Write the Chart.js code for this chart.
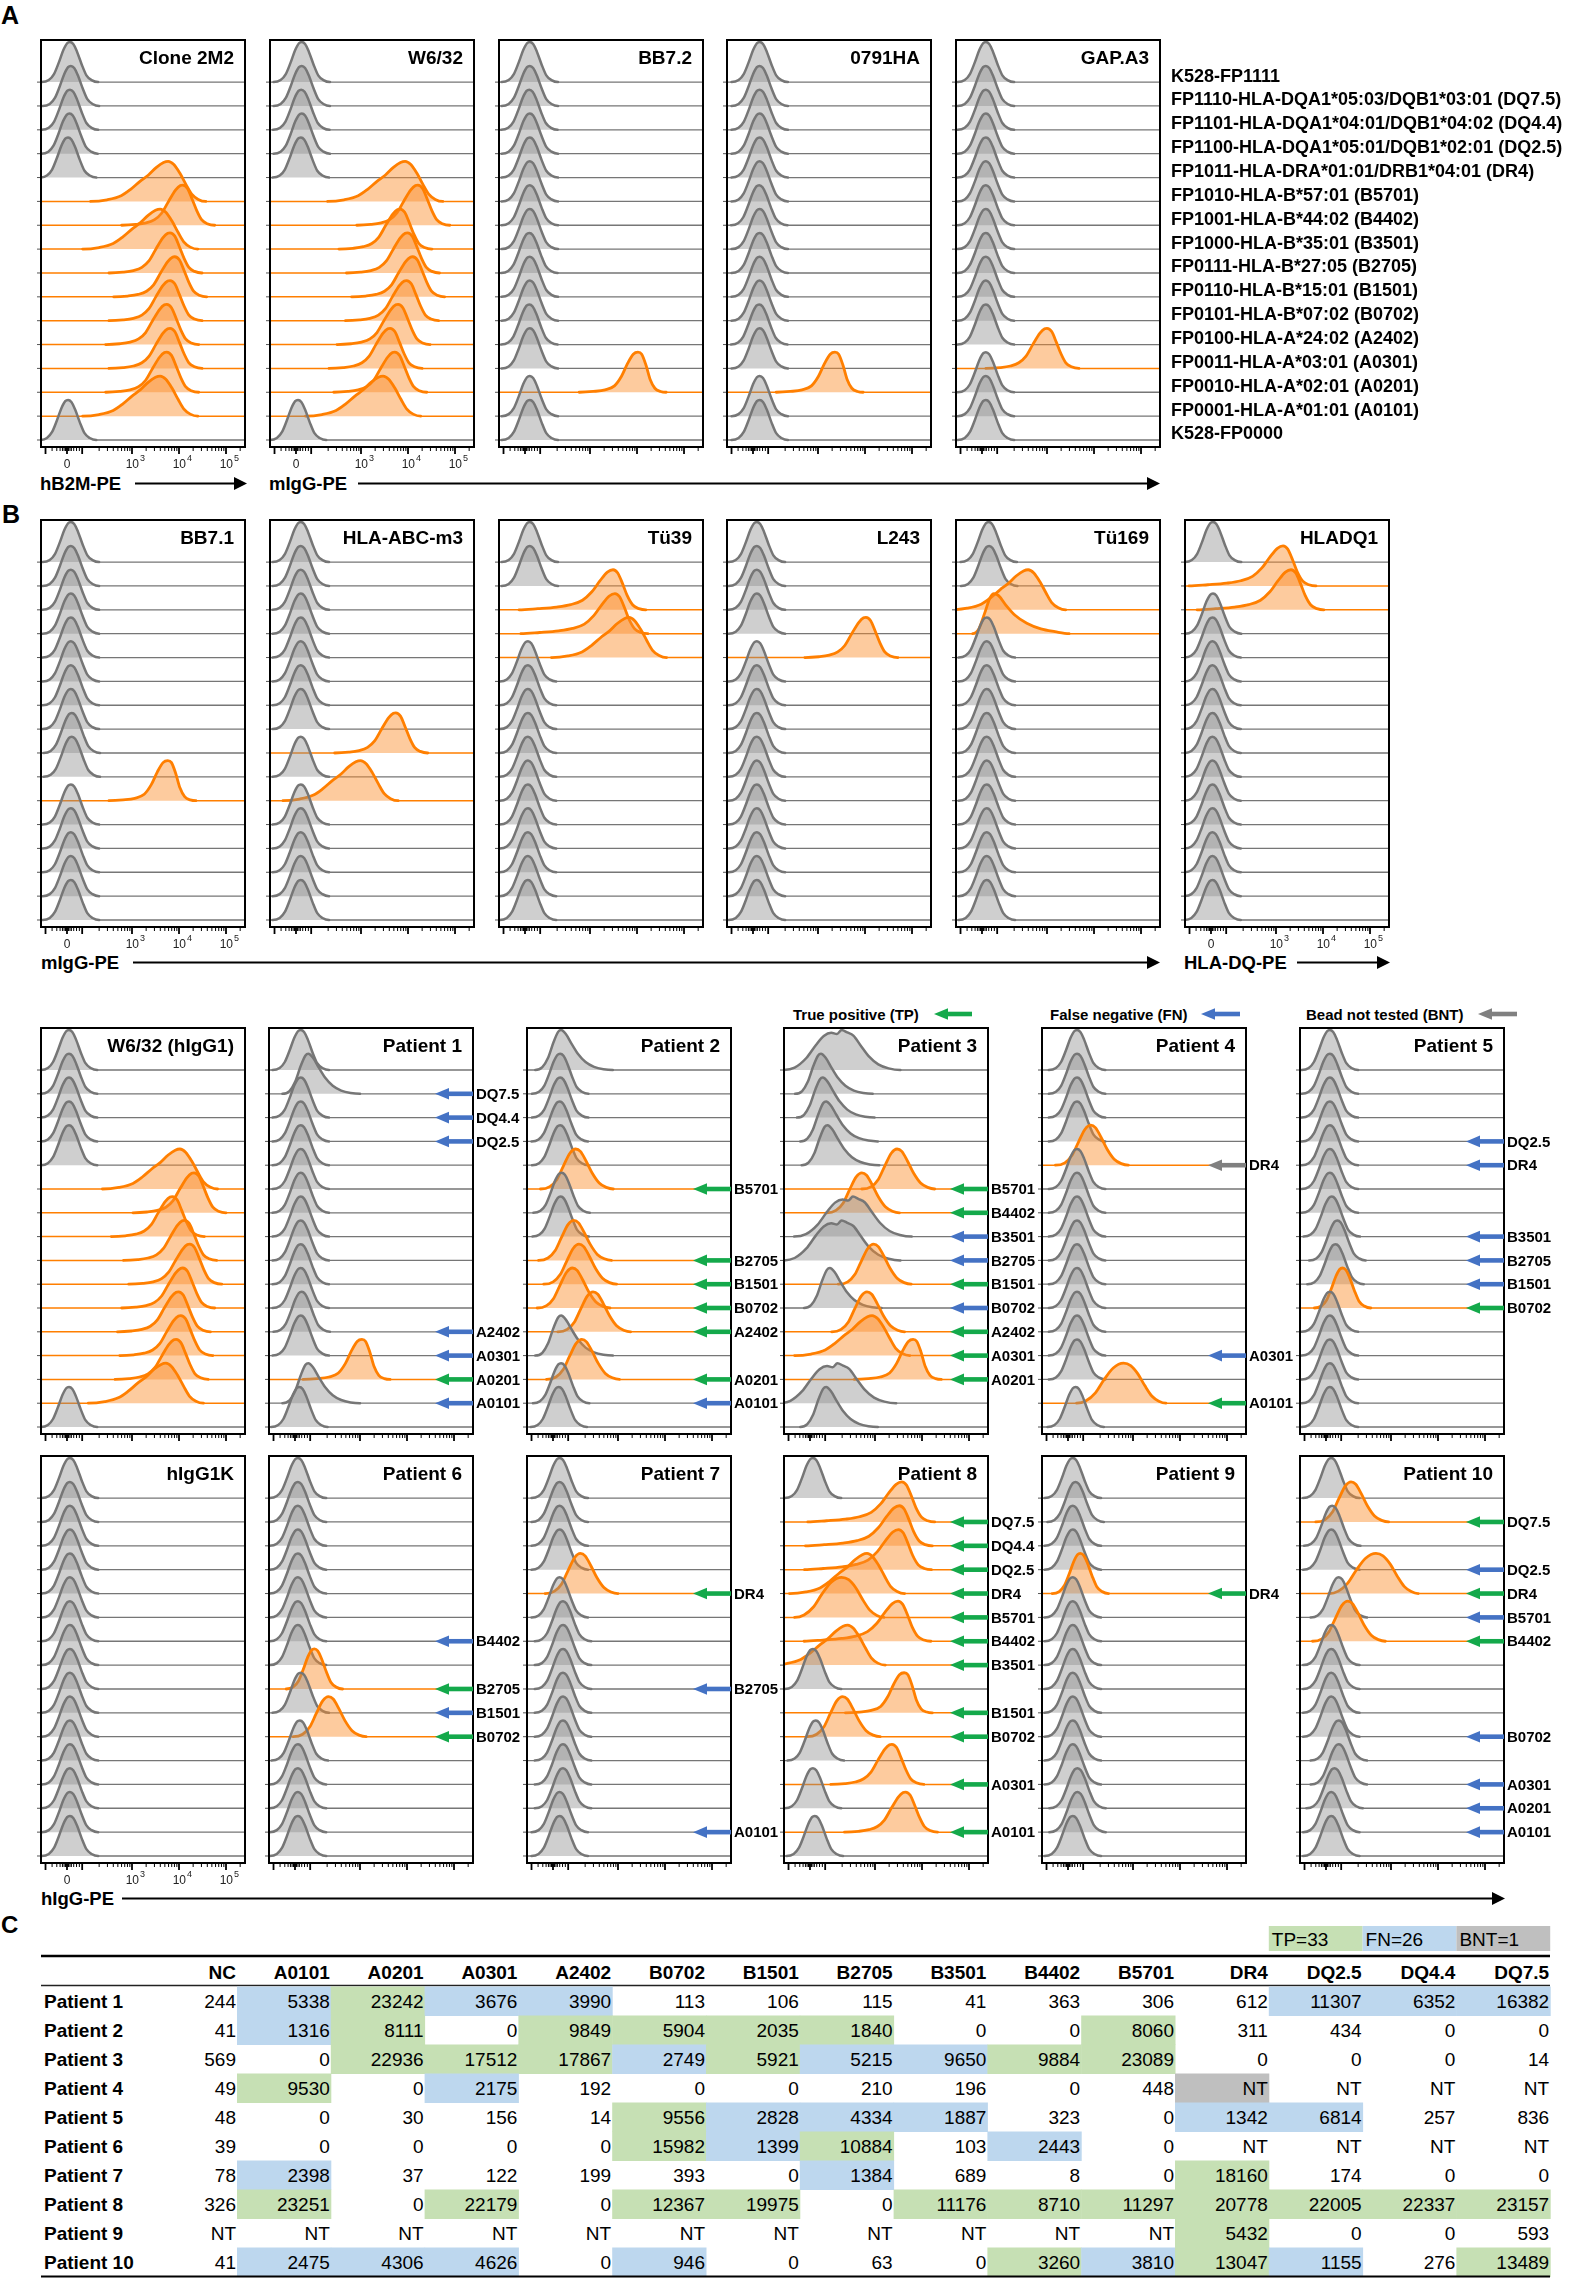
<!DOCTYPE html>
<html><head><meta charset="utf-8"><title>HLA bead histograms</title>
<script src="https://cdn.jsdelivr.net/npm/chart.js@4.4.1/dist/chart.umd.min.js"></script>
<style>
html,body{margin:0;padding:0;background:#fff;}
#page{position:relative;width:1575px;height:2278px;overflow:hidden;background:#fff;}
#page canvas{position:absolute;}
#overlay{position:absolute;left:0;top:0;}
</style></head>
<body><div id="page"><svg id="overlay" xmlns="http://www.w3.org/2000/svg" width="1575" height="2278"></svg></div>
<script>
// ================= DATA =================
// rows of every histogram stack, bottom (0) to top (15)
const BEADS = ['K528-FP0000','A0101','A0201','A0301','A2402','B0702','B1501','B2705','B3501','B4402','B5701','DR4','DQ2.5','DQ4.4','DQ7.5','K528-FP1111'];
const BEAD_LABELS = ['K528-FP0000','FP0001-HLA-A*01:01 (A0101)','FP0010-HLA-A*02:01 (A0201)','FP0011-HLA-A*03:01 (A0301)',
  'FP0100-HLA-A*24:02 (A2402)','FP0101-HLA-B*07:02 (B0702)','FP0110-HLA-B*15:01 (B1501)','FP0111-HLA-B*27:05 (B2705)',
  'FP1000-HLA-B*35:01 (B3501)','FP1001-HLA-B*44:02 (B4402)','FP1010-HLA-B*57:01 (B5701)','FP1011-HLA-DRA*01:01/DRB1*04:01 (DR4)',
  'FP1100-HLA-DQA1*05:01/DQB1*02:01 (DQ2.5)','FP1101-HLA-DQA1*04:01/DQB1*04:02 (DQ4.4)','FP1110-HLA-DQA1*05:03/DQB1*03:01 (DQ7.5)','K528-FP1111'];

// x axis ticks (display position on the biexponential axis: 10^3 -> 3, 10^4 -> 4 ...)
const X_TICK_VALUES = [1.617, 3, 4, 5];
const X_TICK_LABELS = ['0', '3', '4', '5'];

// peak position of each histogram (display units), bottom row first
// kinds: lowercase = grey (negative), uppercase = orange (positive); letter = peak profile
const PANEL_A = ['Clone 2M2','W6/32','BB7.2','0791HA','GAP.A3'];
const PEAKS_A = [
  [1.64,3.6,3.74,3.81,3.74,3.81,3.91,3.81,3.6,4.08,3.77,1.64,1.67,1.68,1.70,1.68],
  [1.66,3.47,3.72,3.62,3.79,3.97,4.1,3.99,3.83,4.21,3.94,1.72,1.74,1.73,1.74,1.74],
  [1.72,1.72,4.02,1.72,1.71,1.72,1.72,1.71,1.72,1.72,1.72,1.72,1.72,1.71,1.72,1.72],
  [1.76,1.76,3.36,1.76,1.75,1.76,1.76,1.76,1.76,1.75,1.76,1.76,1.76,1.76,1.76,1.76],
  [1.70,1.70,1.70,3.0,1.70,1.70,1.70,1.70,1.70,1.70,1.70,1.70,1.70,1.70,1.70,1.70]
];
const KINDS_A = ['nBPPPPPPBPBnnnnn','nBPPPPPPPPBnnnnn','nnQnnnnnnnnnnnnn','nnQnnnnnnnnnnnnn','nnnPnnnnnnnnnnnn'];

const PANEL_B = ['BB7.1','HLA-ABC-m3','Tü39','L243','Tü169','HLADQ1'];
const PEAKS_B = [
  [1.7,1.7,1.7,1.7,1.7,3.76,1.72,1.72,1.7,1.7,1.7,1.7,1.7,1.7,1.7,1.7],
  [1.72,1.72,1.72,1.72,1.72,2.99,1.72,3.74,1.72,1.72,1.72,1.72,1.72,1.72,1.72,1.72],
  [1.68,1.68,1.68,1.68,1.68,1.68,1.68,1.68,1.68,1.68,1.68,3.83,3.53,3.49,1.72,1.72],
  [1.7,1.7,1.7,1.7,1.7,1.7,1.7,1.7,1.7,1.7,1.7,4.02,1.7,1.7,1.7,1.7],
  [1.72,1.72,1.72,1.72,1.72,1.72,1.72,1.72,1.72,1.72,1.72,1.72,1.87,2.6,1.77,1.76],
  [1.65,1.65,1.65,1.65,1.65,1.65,1.65,1.65,1.65,1.65,1.65,1.65,1.66,3.32,3.15,1.66]
];
const KINDS_B = ['nnnnnQnnnnnnnnnn','nnnnnBnPnnnnnnnn','nnnnnnnnnnnBTTnn','nnnnnnnnnnnPnnnn','nnnnnnnnnnnnRBnn','nnnnnnnnnnnnnTTn'];

const PANEL_C1 = ['W6/32 (hIgG1)','Patient 1','Patient 2','Patient 3','Patient 4','Patient 5'];
const PEAKS_C1 = [
  [1.66,3.72,3.94,4.04,3.99,4.08,4.23,4.12,3.86,4.32,4.02,1.66,1.66,1.66,1.66,1.66],
  [1.71,1.9,3.04,1.74,1.76,1.74,1.74,1.74,1.74,1.74,1.74,1.74,1.74,1.74,1.9,1.74],
  [1.74,1.79,2.23,1.79,2.47,2.03,2.17,2.06,1.78,1.8,2.1,1.77,1.76,1.77,1.77,1.79],
  [1.96,2.2,3.81,2.94,2.83,2.04,2.97,2.29,2.53,2.72,3.47,1.99,1.96,1.89,1.85,2.29],
  [1.78,2.8,1.81,1.81,1.81,1.81,1.81,1.81,1.81,1.81,1.81,2.1,1.81,1.81,1.81,1.81],
  [1.7,1.7,1.7,1.7,1.7,1.97,1.82,1.86,1.74,1.7,1.7,1.7,1.7,1.7,1.7,1.7]
];
const KINDS_C1 = ['nBPPPPPPPPBnnnnn','nsQnnnnnnnnnnnsn','nnMsMMMMnnMnnnns','swQBMsMwwMMssssw','nCnnnnnnnnnMnnnn','nnnnnNnnnnnnnnnn'];

const PANEL_C2 = ['hIgG1K','Patient 6','Patient 7','Patient 8','Patient 9','Patient 10'];
const PEAKS_C2 = [
  [1.68,1.68,1.68,1.68,1.68,1.68,1.68,1.68,1.68,1.68,1.68,1.68,1.68,1.68,1.68,1.68],
  [1.68,1.68,1.68,1.68,1.72,2.33,1.74,2.03,1.68,1.68,1.68,1.68,1.68,1.68,1.68,1.68],
  [1.76,1.76,1.83,1.83,1.83,1.83,1.83,1.83,1.83,1.83,1.76,2.2,1.76,1.76,1.76,1.76],
  [1.72,3.65,1.68,3.36,1.74,2.31,3.62,1.68,2.42,3.49,2.29,2.83,3.5,3.52,3.57,1.68],
  [1.72,1.82,1.82,1.72,1.72,1.72,1.72,1.72,1.72,1.72,1.72,1.88,1.72,1.72,1.78,1.72],
  [1.73,1.73,1.8,1.89,1.89,1.73,1.73,1.73,1.73,2.08,1.89,2.68,1.73,1.75,2.15,1.73]
];
const KINDS_C2 = ['nnnnnnnnnnnnnnnn','nnnnnMnNnnnnnnnn','nnnnnnnnnnnMnnnn','nPnPnMQnBTCBTTTn','nnnnnnnnnnnNnnnn','nnnnnnnnnMnCnnMn'];

// peak profiles: [offset along x (display units), relative height]
const PROFILE_N = [[-0.6,0],[-0.45,0.05],[-0.34,0.2],[-0.24,0.48],[-0.14,0.8],[-0.06,0.97],[0,1],[0.07,0.95],[0.15,0.76],[0.25,0.44],[0.35,0.17],[0.46,0.05],[0.6,0]];
const PROFILE_S = [[-0.55,0],[-0.4,0.07],[-0.28,0.3],[-0.16,0.7],[-0.06,0.96],[0,1],[0.1,0.9],[0.22,0.66],[0.36,0.4],[0.52,0.2],[0.7,0.08],[0.9,0.02],[1.1,0]];
const PROFILE_W = [[-1.25,0],[-1.0,0.06],[-0.75,0.3],[-0.55,0.62],[-0.38,0.85],[-0.22,0.93],[-0.1,0.9],[0,1],[0.12,0.94],[0.25,0.86],[0.4,0.62],[0.58,0.34],[0.78,0.14],[1.0,0.04],[1.25,0]];
const PROFILE_P = [[-1.3,0],[-1.0,0.02],[-0.78,0.06],[-0.6,0.14],[-0.45,0.3],[-0.3,0.6],[-0.15,0.88],[-0.05,0.99],[0,1],[0.1,0.92],[0.2,0.65],[0.3,0.36],[0.4,0.14],[0.52,0.04],[0.68,0]];
const PROFILE_Q = [[-1.25,0],[-0.95,0.02],[-0.7,0.06],[-0.5,0.16],[-0.35,0.4],[-0.22,0.72],[-0.1,0.95],[0,1],[0.08,0.95],[0.17,0.68],[0.26,0.32],[0.36,0.1],[0.48,0.02],[0.6,0]];
const PROFILE_B = [[-1.65,0],[-1.3,0.04],[-1.0,0.14],[-0.8,0.3],[-0.6,0.5],[-0.42,0.66],[-0.25,0.85],[-0.1,0.97],[0,1],[0.12,0.92],[0.25,0.7],[0.38,0.42],[0.5,0.18],[0.64,0.05],[0.8,0]];
const PROFILE_T = [[-2.0,0],[-1.6,0.03],[-1.2,0.07],[-0.9,0.13],[-0.65,0.24],[-0.45,0.45],[-0.28,0.72],[-0.12,0.94],[0,1],[0.1,0.92],[0.2,0.66],[0.3,0.36],[0.42,0.12],[0.55,0.03],[0.7,0]];
const PROFILE_R = [[-0.45,0],[-0.32,0.12],[-0.2,0.5],[-0.08,0.9],[0,1],[0.1,0.95],[0.25,0.72],[0.45,0.46],[0.7,0.26],[1.0,0.12],[1.3,0.05],[1.6,0]];
const PROFILE_M = [[-0.75,0],[-0.55,0.06],[-0.4,0.24],[-0.26,0.58],[-0.12,0.9],[0,1],[0.1,0.94],[0.22,0.7],[0.35,0.4],[0.5,0.15],[0.65,0.04],[0.8,0]];
const PROFILE_C = [[-1.0,0],[-0.8,0.06],[-0.6,0.26],[-0.42,0.58],[-0.22,0.88],[0,1],[0.15,0.94],[0.3,0.74],[0.45,0.44],[0.6,0.18],[0.75,0.05],[0.9,0]];
const PROFILES = {n:PROFILE_N, s:PROFILE_S, w:PROFILE_W, p:PROFILE_P, q:PROFILE_Q, b:PROFILE_B, t:PROFILE_T, r:PROFILE_R, m:PROFILE_M, c:PROFILE_C};

// table (MFI)
const TABLE_COLS = ['NC','A0101','A0201','A0301','A2402','B0702','B1501','B2705','B3501','B4402','B5701','DR4','DQ2.5','DQ4.4','DQ7.5'];
const PATIENTS = ['Patient 1','Patient 2','Patient 3','Patient 4','Patient 5','Patient 6','Patient 7','Patient 8','Patient 9','Patient 10'];
const MFI = [
  ['244','5338','23242','3676','3990','113','106','115','41','363','306','612','11307','6352','16382'],
  ['41','1316','8111','0','9849','5904','2035','1840','0','0','8060','311','434','0','0'],
  ['569','0','22936','17512','17867','2749','5921','5215','9650','9884','23089','0','0','0','14'],
  ['49','9530','0','2175','192','0','0','210','196','0','448','NT','NT','NT','NT'],
  ['48','0','30','156','14','9556','2828','4334','1887','323','0','1342','6814','257','836'],
  ['39','0','0','0','0','15982','1399','10884','103','2443','0','NT','NT','NT','NT'],
  ['78','2398','37','122','199','393','0','1384','689','8','0','18160','174','0','0'],
  ['326','23251','0','22179','0','12367','19975','0','11176','8710','11297','20778','22005','22337','23157'],
  ['NT','NT','NT','NT','NT','NT','NT','NT','NT','NT','NT','5432','0','0','593'],
  ['41','2475','4306','4626','0','946','0','63','0','3260','3810','13047','1155','276','13489']
];
// G = true positive, B = false negative, X = bead not tested
const STATUS = ['.BGBB.......BBB','.BG.GGGG..G....','..GGGBGBBGG....','.G.B.......X...','.....GBBB..BB..',
                '.....GBG.B.....','.B.....B...G...','.G.G.GG.GGGGGGG','...........G...','.BBB.B...GBGB.G'];
const SUMMARY = ['TP=33','FN=26','BNT=1'];

// ================= STYLE / LAYOUT =================
const FONT = '"Liberation Sans", Arial, Helvetica, sans-serif';
const X_MIN = 1.064, X_MAX = 5.404, Y_MIN = -0.294, Y_MAX = 16.765, PEAK_H = 1.68;
const GRAY_LINE = 'rgb(118,118,118)', GRAY_FILL = 'rgba(140,140,140,0.42)';
const ORANGE_LINE = 'rgb(255,127,0)', ORANGE_FILL = 'rgba(250,140,40,0.45)';
const ARROW_COLORS = {G:'#14a94b', B:'#4472c4', X:'#808080'};
const CELL_COLORS = {G:'#c6e0b4', B:'#bdd7ee', X:'#bfbfbf'};
const BOX_W = 204;
const MINOR_TICKS = [1.3,1.4,1.47,1.52,1.555,1.585,1.6,1.635,1.65,1.68,1.71,1.76,1.82,1.88];
for (const d of [2,3,4,5]) for (let k=2;k<=9;k++) MINOR_TICKS.push(d+Math.log10(k));
const HALF_TICKS = [1.16, 1.94];

const page = document.getElementById('page');
Chart.defaults.font.family = FONT;

function rowDataset(r, center, kind){
  const prof = PROFILES[kind.toLowerCase()];
  const orange = kind !== kind.toLowerCase();
  const pts = [{x: X_MIN - 1, y: r}];
  for (const [d,h] of prof) pts.push({x: center + d, y: r + h*PEAK_H});
  pts.push({x: X_MAX + 1, y: r});
  const thick = orange ? 2.8 : 2.5, thin = orange ? 1.5 : 1.3;
  return {
    data: pts, fill: {value: r},
    borderColor: orange ? ORANGE_LINE : GRAY_LINE,
    backgroundColor: orange ? ORANGE_FILL : GRAY_FILL,
    borderWidth: thick, pointRadius: 0, cubicInterpolationMode: 'monotone',
    borderJoinStyle: 'round', borderCapStyle: 'round',
    segment: {borderWidth: c => (c.p0.parsed.y - r < 0.002 && c.p1.parsed.y - r < 0.002) ? thin : thick}
  };
}

function decor(cfg){
  return {
    id: 'decor',
    afterDatasetsDraw(chart){
      const {ctx, chartArea: a, scales: {x, y}} = chart;
      ctx.save();
      // small ticks at the left of each row
      ctx.strokeStyle = '#555'; ctx.lineWidth = 1;
      for (let r=0; r<BEADS.length; r++){
        const py = y.getPixelForValue(r);
        ctx.beginPath(); ctx.moveTo(a.left-4, py); ctx.lineTo(a.left, py); ctx.stroke();
      }
      // x-axis tick marks
      ctx.strokeStyle = '#000';
      ctx.lineWidth = 1;
      for (const v of MINOR_TICKS){
        if (v < X_MIN || v > X_MAX) continue;
        const px = x.getPixelForValue(v);
        ctx.beginPath(); ctx.moveTo(px, a.bottom); ctx.lineTo(px, a.bottom+4); ctx.stroke();
      }
      ctx.lineWidth = 1.8;
      for (const v of X_TICK_VALUES.concat(HALF_TICKS)){
        const px = x.getPixelForValue(v);
        ctx.beginPath(); ctx.moveTo(px, a.bottom); ctx.lineTo(px, a.bottom+7); ctx.stroke();
      }
      // frame
      ctx.lineWidth = 2; ctx.strokeStyle = '#000';
      ctx.strokeRect(a.left, a.top, a.right-a.left, a.bottom-a.top);
      // tick labels
      if (cfg.tickLabels){
        ctx.fillStyle = '#222';
        X_TICK_VALUES.forEach((v,i) => {
          const px = x.getPixelForValue(v);
          if (X_TICK_LABELS[i] === '0'){
            ctx.font = '12px ' + FONT; ctx.textAlign = 'center'; ctx.textBaseline = 'alphabetic';
            ctx.fillText('0', px, a.bottom + 21);
          } else {
            ctx.font = '12px ' + FONT; ctx.textAlign = 'right'; ctx.textBaseline = 'alphabetic';
            ctx.fillText('10', px + 7, a.bottom + 21);
            ctx.font = '9px ' + FONT; ctx.textAlign = 'left';
            ctx.fillText(X_TICK_LABELS[i], px + 8, a.bottom + 14);
          }
        });
      }
      // title
      ctx.fillStyle = '#000';
      ctx.font = 'bold 19px ' + FONT; ctx.textAlign = 'right'; ctx.textBaseline = 'alphabetic';
      ctx.fillText(cfg.title, a.right - 11, a.top + 24);
      // arrows for patients
      if (cfg.status){
        for (let r=1; r<=14; r++){
          const s = cfg.status[r];
          if (!ARROW_COLORS[s]) continue;
          const py = y.getPixelForValue(r);
          const xr = a.right, tip = a.right - 38;
          ctx.fillStyle = ARROW_COLORS[s];
          ctx.fillRect(tip + 12, py - 2.3, xr - tip - 12, 4.6);
          ctx.beginPath(); ctx.moveTo(tip, py); ctx.lineTo(tip + 14, py - 5.8); ctx.lineTo(tip + 14, py + 5.8); ctx.closePath(); ctx.fill();
          ctx.fillStyle = '#000';
          ctx.font = 'bold 15px ' + FONT; ctx.textAlign = 'left'; ctx.textBaseline = 'middle';
          ctx.fillText(TABLE_COLS[r], xr + 3, py + 1);
        }
      }
      // bead labels (panel A right side)
      if (cfg.rowLabels){
        ctx.fillStyle = '#000';
        ctx.font = 'bold 18px ' + FONT; ctx.textAlign = 'left'; ctx.textBaseline = 'middle';
        for (let r=0; r<BEAD_LABELS.length; r++){
          ctx.fillText(BEAD_LABELS[r], a.right + 11, y.getPixelForValue(r) - 5.5);
        }
      }
      ctx.restore();
    }
  };
}

function makeStack(cfg){
  const padL = 6, padT = 4, padB = cfg.tickLabels ? 30 : 12, padR = cfg.rightPad;
  const W = padL + BOX_W + padR, H = padT + cfg.h + padB;
  const cv = document.createElement('canvas');
  cv.width = W; cv.height = H;
  cv.style.width = W + 'px'; cv.style.height = H + 'px';
  cv.style.left = (cfg.left - padL) + 'px'; cv.style.top = (cfg.top - padT) + 'px';
  page.appendChild(cv);
  const datasets = [];
  for (let r=0; r<BEADS.length; r++) datasets.push(rowDataset(r, cfg.peaks[r], cfg.kinds[r]));
  new Chart(cv, {
    type: 'line',
    data: {datasets},
    options: {
      responsive: false, animation: false, events: [], devicePixelRatio: 1,
      layout: {padding: {left: padL, top: padT, right: padR, bottom: padB}},
      scales: {
        x: {type: 'linear', display: false, min: X_MIN, max: X_MAX},
        y: {type: 'linear', display: false, min: Y_MIN, max: Y_MAX}
      },
      plugins: {legend: {display: false}, tooltip: {enabled: false}, title: {display: false}}
    },
    plugins: [decor(cfg)]
  });
}

// Panel A
const A_LEFTS = [41, 270, 499, 727, 956];
PANEL_A.forEach((t,i) => makeStack({title: t, peaks: PEAKS_A[i], kinds: KINDS_A[i], left: A_LEFTS[i], top: 40, h: 407,
  tickLabels: i < 2, rightPad: i === 4 ? 415 : 6, rowLabels: i === 4}));
// Panel B
const B_LEFTS = [41, 270, 499, 727, 956, 1185];
PANEL_B.forEach((t,i) => makeStack({title: t, peaks: PEAKS_B[i], kinds: KINDS_B[i], left: B_LEFTS[i], top: 520, h: 407,
  tickLabels: i === 0 || i === 5, rightPad: 6}));
// Patient stacks
const C_LEFTS = [41, 269, 527, 784, 1042, 1300];
PANEL_C1.forEach((t,i) => makeStack({title: t, peaks: PEAKS_C1[i], kinds: KINDS_C1[i], left: C_LEFTS[i], top: 1028, h: 406,
  tickLabels: false, rightPad: 52, status: i > 0 ? STATUS[i-1] : null}));
PANEL_C2.forEach((t,i) => makeStack({title: t, peaks: PEAKS_C2[i], kinds: KINDS_C2[i], left: C_LEFTS[i], top: 1456, h: 407,
  tickLabels: i === 0, rightPad: 52, status: i > 0 ? STATUS[i+4] : null}));

// ================= SVG overlay: letters, axis titles, legend, table =================
const svg = document.getElementById('overlay');
const NS = 'http://www.w3.org/2000/svg';
function el(tag, attrs, text){
  const e = document.createElementNS(NS, tag);
  for (const k in attrs) e.setAttribute(k, attrs[k]);
  if (text != null) e.textContent = text;
  svg.appendChild(e); return e;
}
function txt(x, y, s, size, weight, anchor){
  return el('text', {x, y, 'font-family': FONT, 'font-size': size, 'font-weight': weight || 'normal', 'text-anchor': anchor || 'start', fill: '#000'}, s);
}
function arrowRight(x1, x2, y, w, hl, hh, color){
  el('line', {x1, y1: y, x2: x2 - hl + 1, y2: y, stroke: color, 'stroke-width': w});
  el('polygon', {points: `${x2},${y} ${x2-hl},${y-hh} ${x2-hl},${y+hh}`, fill: color});
}
function arrowLeft(x1, x2, y, w, hl, hh, color){
  el('line', {x1: x1 + hl - 1, y1: y, x2, y2: y, stroke: color, 'stroke-width': w});
  el('polygon', {points: `${x1},${y} ${x1+hl},${y-hh} ${x1+hl},${y+hh}`, fill: color});
}

txt(1, 24, 'A', 25, 'bold');
txt(2, 523, 'B', 25, 'bold');
txt(1, 1933, 'C', 24, 'bold');

// axis titles
txt(40, 490, 'hB2M-PE', 18.5, 'bold'); arrowRight(135, 247, 483.5, 2, 13, 6.5, '#000');
txt(269, 490, 'mIgG-PE', 18.5, 'bold'); arrowRight(358, 1160, 483.5, 2, 13, 6.5, '#000');
txt(41, 969, 'mIgG-PE', 18.5, 'bold'); arrowRight(133, 1160, 962.5, 2, 13, 6.5, '#000');
txt(1184, 969, 'HLA-DQ-PE', 18.5, 'bold'); arrowRight(1297, 1390, 962.5, 2, 13, 6.5, '#000');
txt(41, 1905, 'hIgG-PE', 18.5, 'bold'); arrowRight(122, 1505, 1898.5, 2, 13, 6.5, '#000');

// arrow legend
txt(793, 1019.5, 'True positive (TP)', 15, 'bold'); arrowLeft(934, 972, 1014, 4.6, 14, 5.8, ARROW_COLORS.G);
txt(1050, 1019.5, 'False negative (FN)', 15, 'bold'); arrowLeft(1201, 1240, 1014, 4.6, 14, 5.8, ARROW_COLORS.B);
txt(1306, 1019.5, 'Bead not tested (BNT)', 15, 'bold'); arrowLeft(1478, 1517, 1014, 4.6, 14, 5.8, ARROW_COLORS.X);

// table
const COL_RIGHT = TABLE_COLS.map((c,i) => 237 + i*93.8);
const COL_W = 93.8, ROW_TOP = 1986.5, ROW_H = 29;
['G','B','X'].forEach((k,i) => {
  const x0 = COL_RIGHT[11] + i*COL_W;
  el('rect', {x: x0, y: 1926, width: COL_W, height: 25, fill: CELL_COLORS[k]});
  txt(x0 + 3, 1945.5, SUMMARY[i], 19, 'normal');
});
el('line', {x1: 41, y1: 1956, x2: 1550, y2: 1956, stroke: '#000', 'stroke-width': 2.6});
TABLE_COLS.forEach((c,i) => txt(COL_RIGHT[i] - 1, 1978.5, c, 19, 'bold', 'end'));
el('line', {x1: 41, y1: 1985.5, x2: 1550, y2: 1985.5, stroke: '#222', 'stroke-width': 1.6});
PATIENTS.forEach((p,r) => {
  const top = ROW_TOP + r*ROW_H;
  TABLE_COLS.forEach((c,i) => {
    const k = STATUS[r][i];
    if (CELL_COLORS[k]) el('rect', {x: COL_RIGHT[i] - COL_W, y: top, width: COL_W + 0.5, height: ROW_H + 0.5, fill: CELL_COLORS[k]});
  });
  txt(44, top + 21.3, p, 19, 'bold');
  MFI[r].forEach((v,i) => txt(COL_RIGHT[i] - 1, top + 21.3, v, 19, 'normal', 'end'));
});
el('line', {x1: 41, y1: 2276.5, x2: 1550, y2: 2276.5, stroke: '#000', 'stroke-width': 2});
</script>
</body></html>
